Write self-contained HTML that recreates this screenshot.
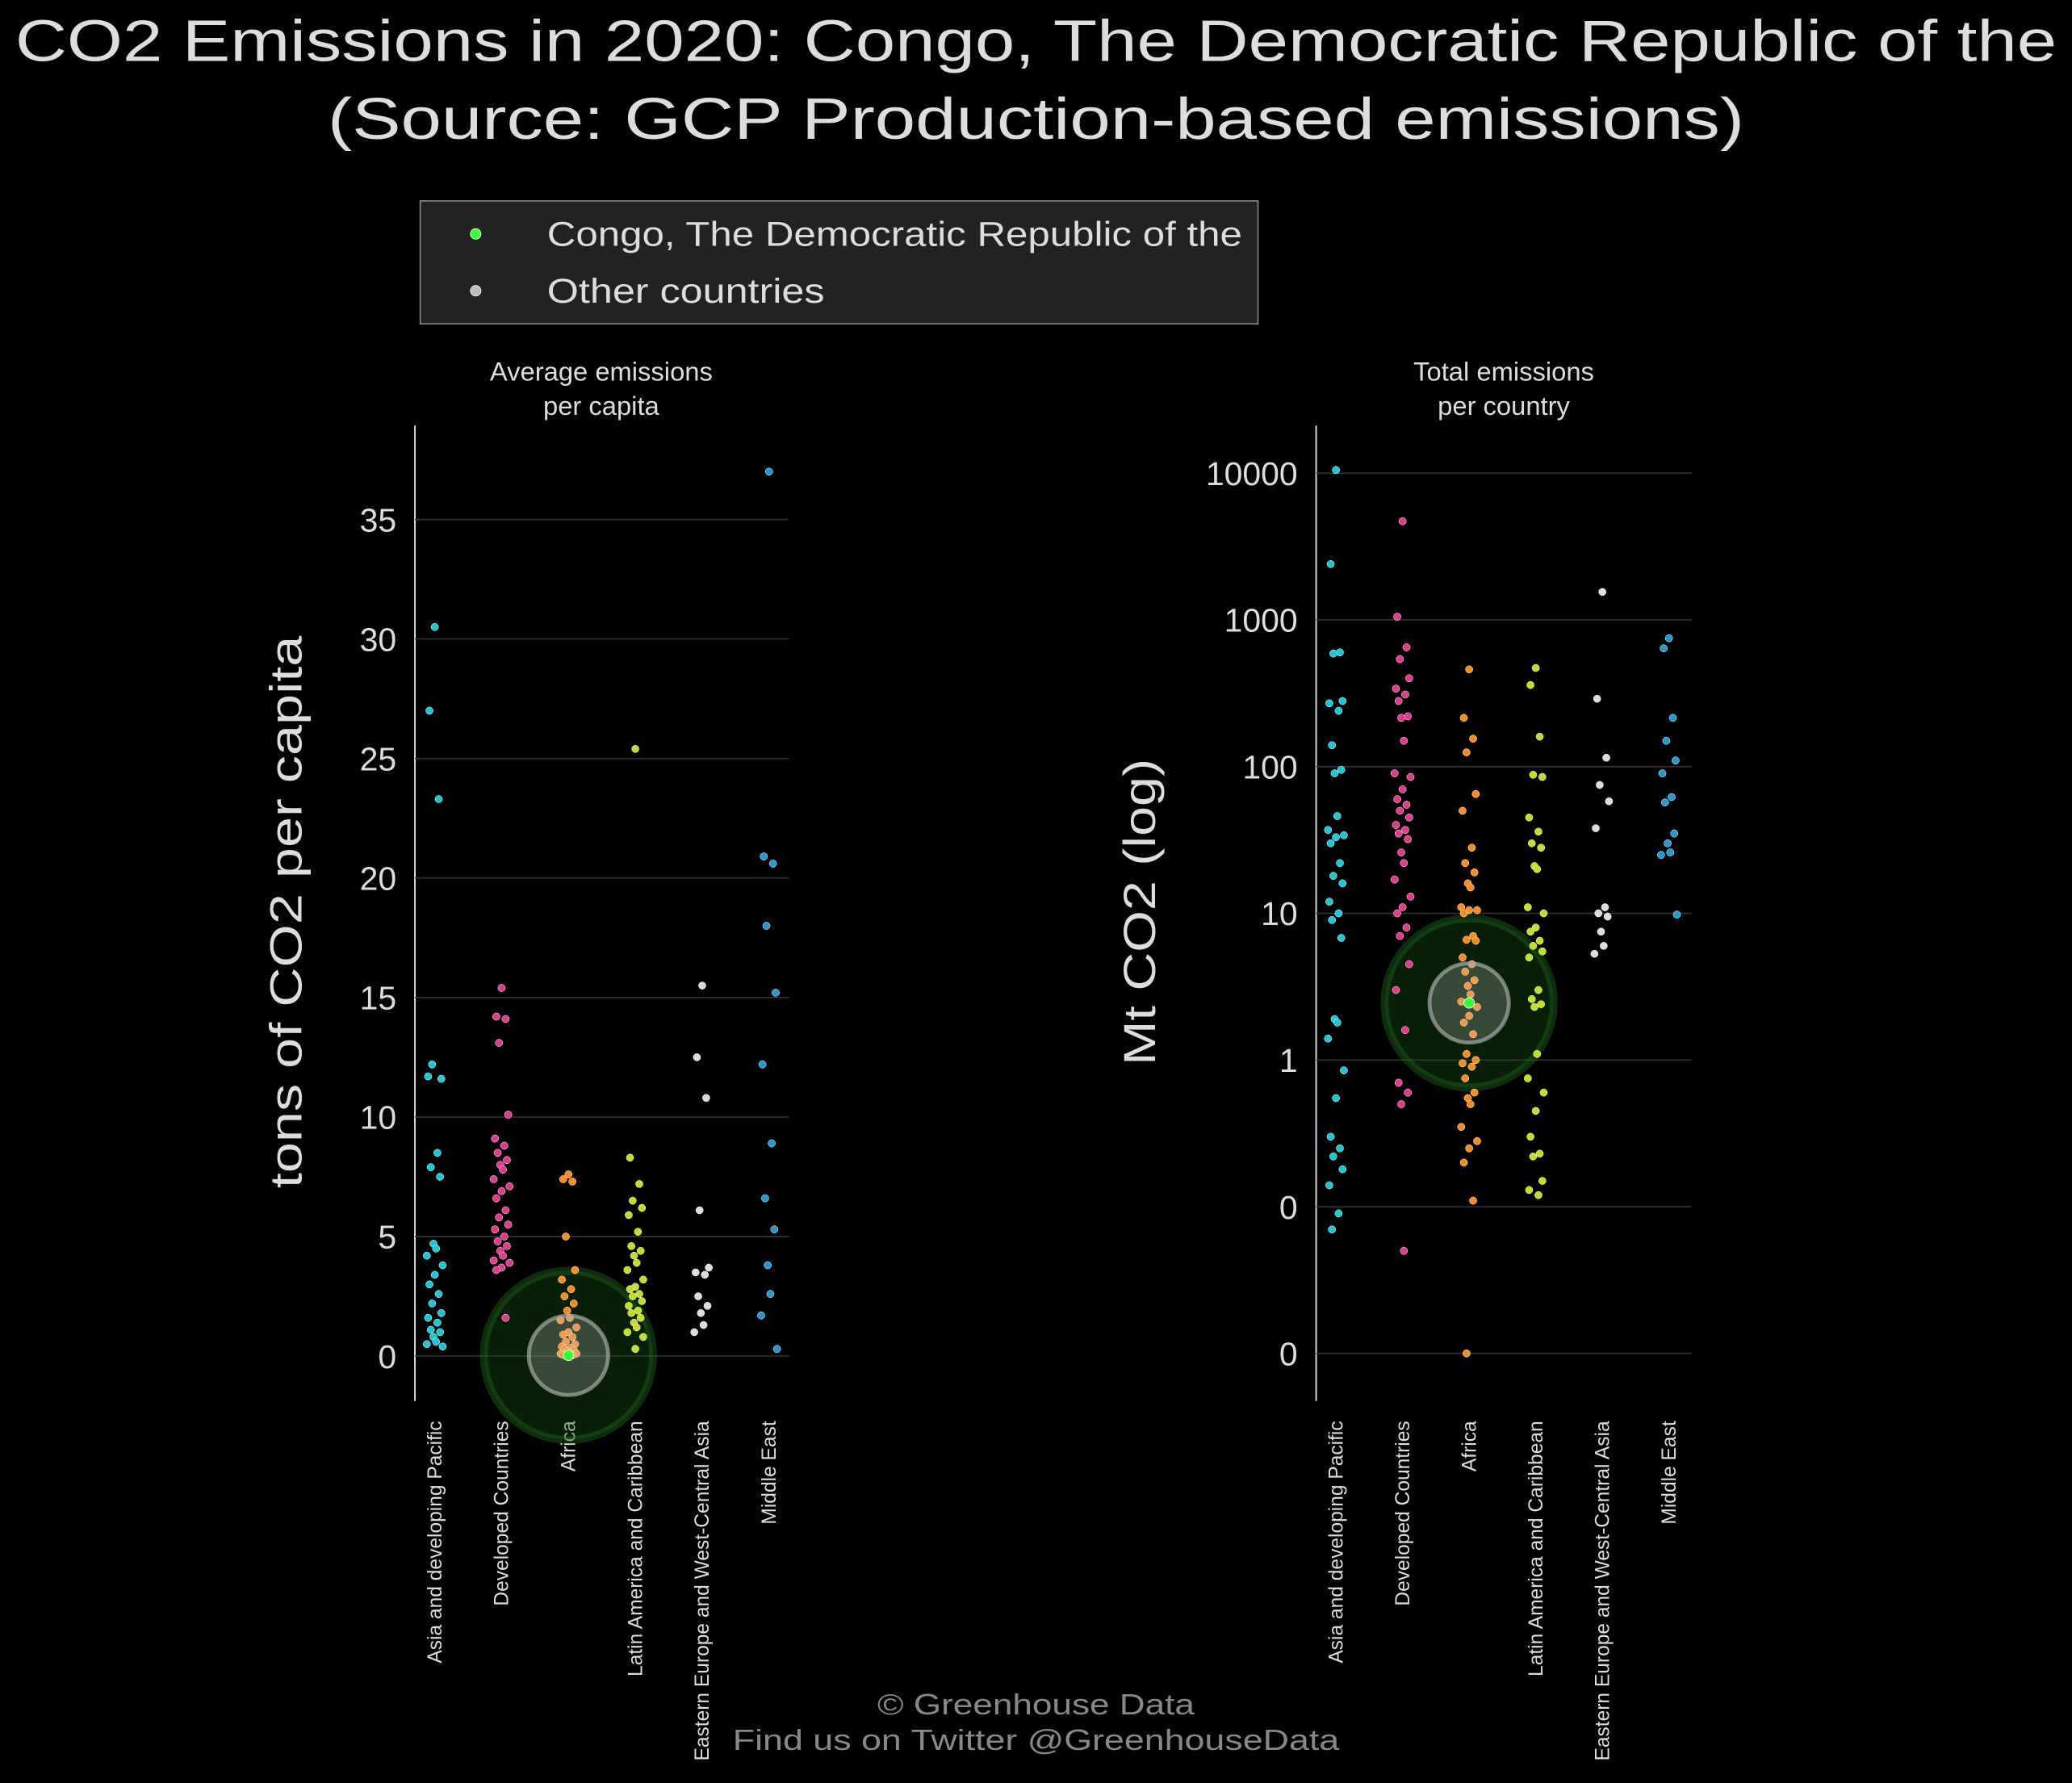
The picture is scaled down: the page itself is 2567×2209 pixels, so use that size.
<!DOCTYPE html>
<html><head><meta charset="utf-8"><style>
html,body{margin:0;padding:0;background:#000;}
svg{display:block;font-family:"Liberation Sans",sans-serif;}
</style></head><body>
<svg id="chart" width="2567" height="2209" viewBox="0 0 1568 1349" preserveAspectRatio="none" xmlns="http://www.w3.org/2000/svg">
<rect width="1568" height="1349" fill="#000"/>
<text x="784" y="46" text-anchor="middle" fill="#dddddd" font-size="44" textLength="1545" lengthAdjust="spacingAndGlyphs">CO2 Emissions in 2020: Congo, The Democratic Republic of the</text>
<text x="784" y="105" text-anchor="middle" fill="#dddddd" font-size="44" textLength="1072" lengthAdjust="spacingAndGlyphs">(Source: GCP Production-based emissions)</text>
<g>
<rect x="318" y="152" width="634" height="93" fill="#222" stroke="#888" stroke-width="1"/>
<circle cx="360" cy="177" r="4" fill="#33ff33" stroke="#fff" stroke-width="0.5"/>
<text x="414" y="186" fill="#dddddd" font-size="26" textLength="526" lengthAdjust="spacingAndGlyphs">Congo, The Democratic Republic of the</text>
<circle cx="360" cy="220" r="4" fill="#bbb" stroke="#fff" stroke-width="0.5"/>
<text x="414" y="229" fill="#dddddd" font-size="26" textLength="210" lengthAdjust="spacingAndGlyphs">Other countries</text>
</g>
<g id="left"></g>
<g id="right"></g>
<text x="784" y="1297" text-anchor="middle" fill="#888" font-size="22" textLength="240" lengthAdjust="spacingAndGlyphs">© Greenhouse Data</text>
<text x="784" y="1324" text-anchor="middle" fill="#888" font-size="22" textLength="459" lengthAdjust="spacingAndGlyphs">Find us on Twitter @GreenhouseData</text>
</svg>
<script>
const categories = ["Asia and developing Pacific","Developed Countries","Africa","Latin America and Caribbean","Eastern Europe and West-Central Asia","Middle East"];
const colors = ["#16c8d8","#e8378e","#ff8a1c","#c2e022","#dddddd","#1f9ad6"];
const perCapAsia = [30.5,27,23.3,12.2,11.6,11.7,8.5,7.9,7.5,4.7,4.5,4.2,3.8,3.4,3.0,2.6,2.2,1.8,1.6,1.4,1.1,1.0,0.8,0.6,0.5,0.4];
const perCapDeveloped = [15.4,14.2,14.1,13.1,10.1,9.1,8.8,8.5,8.2,8.0,7.8,7.4,7.1,6.9,6.6,6.1,5.8,5.5,5.3,5.0,4.8,4.6,4.4,4.2,4.0,3.9,3.7,3.6,1.6];
const perCapAfrica = [7.6,7.4,7.3,5.0,3.6,3.2,2.8,2.5,2.2,1.9,1.6,1.5,1.2,1.0,0.9,0.8,0.6,0.5,0.4,0.35,0.3,0.25,0.2,0.15,0.1,0.1,0.05,0.05,0.03];
const perCapLatam = [25.4,8.3,7.2,6.5,6.2,5.9,5.2,4.6,4.4,4.2,3.9,3.6,3.2,2.9,2.8,2.6,2.5,2.3,2.1,1.9,1.8,1.6,1.4,1.2,1.0,0.8,0.3];
const perCapEastEurope = [15.5,12.5,10.8,6.1,3.7,3.5,3.4,2.5,2.1,1.8,1.3,1.0];
const perCapMiddleEast = [37.0,20.9,20.6,18.0,15.2,12.2,8.9,6.6,5.3,3.8,2.6,1.7,0.3];
const totalAsia = [10500,2400,600,590,280,270,240,140,95,90,46,37,34,33,30,22,18,16,12,10,9,6.8,1.9,1.8,1.4,0.85,0.55,0.3,0.25,0.22,0.18,0.14,0.09,0.07];
const totalDeveloped = [4700,1050,650,540,400,340,310,280,220,215,150,90,85,70,60,55,50,45,40,37,35,32,26,22,17,13,11,10,8,7,4.5,3,1.6,0.7,0.6,0.5,0.05];
const totalAfrica = [460,215,155,125,65,50,28,22,19,16,15,11,10.5,10.5,10,7,6.6,6.5,5,4.5,4,3.5,3.2,2.8,2.5,2.3,2,1.8,1.5,1.1,1.0,0.95,0.9,0.75,0.6,0.55,0.5,0.35,0.28,0.25,0.2,0.11,0.01];
const totalLatam = [470,360,160,88,85,45,36,30,28,21,20,11,10,8,7.5,6.5,6,5.5,5,3,2.6,2.4,2.3,1.1,0.75,0.6,0.45,0.3,0.23,0.22,0.15,0.13,0.12];
const totalEastEurope = [1550,290,115,75,58,38,11,10,9.5,7.5,6,5.3];
const totalMiddleEast = [750,640,215,150,110,90,62,57,35,30,26,25,9.8];
const congoPerCap = 0.03;
const congoTotal = 2.45;
const congoCategory = 2;
const leftTicks = [0,5,10,15,20,25,30,35];
const rightTicks = [10000,1000,100,10,1,0.1,0.01];
const rightTickLabels = ["10000","1000","100","10","1","0","0"];

const NS="http://www.w3.org/2000/svg";
function mk(tag,attrs,parent){const e=document.createElementNS(NS,tag);for(const k in attrs)e.setAttribute(k,attrs[k]);parent.appendChild(e);return e;}
const jit=[0,-4,3,-2,5,-5,2,-3,4,-1,1,-6,6];

function panel(g,opts){
  const {x0,x1,yTop,yBot,catX,yScale,ticks,tickLabels,series,congoVal,title1,title2,titleX,ylabel,ylabelX,ylabelLen}=opts;
  const ax=mk('line',{x1:x0,x2:x0,y1:yTop,y2:yBot,stroke:'#ddd','stroke-width':1.2},g);
  
  
  ticks.forEach((t,i)=>{
    const y=yScale(t);
    const gl=mk('line',{x1:x0,x2:x1,y1:y,y2:y,stroke:'#333','stroke-width':1},g);
    
    
    const tx=mk('text',{x:x0-14,y:y+9,'text-anchor':'end',fill:'#ddd','font-size':25},g);
    tx.textContent=tickLabels[i];
    
    
  });
  const t1=mk('text',{x:titleX,y:288,'text-anchor':'middle',fill:'#ddd','font-size':20},g);t1.textContent=title1;
  
  
  const t2=mk('text',{x:titleX,y:314,'text-anchor':'middle',fill:'#ddd','font-size':20},g);t2.textContent=title2;
  
  
  const yl=mk('text',{x:ylabelX,y:690,'text-anchor':'middle',fill:'#ddd','font-size':34,textLength:ylabelLen,lengthAdjust:'spacingAndGlyphs',transform:`rotate(-90 ${ylabelX} 690)`},g);yl.textContent=ylabel;
  
  
  categories.forEach((c,i)=>{
    const x=catX(i);
    const lt=mk('text',{x:x+5,y:1075,'text-anchor':'end',fill:'#ddd','font-size':15,transform:`rotate(-90 ${x+5} 1075)`},g);lt.textContent=c;
    
    
  });
  const cx=catX(congoCategory), cy=yScale(congoVal);
  const glow=mk('circle',{cx:cx,cy:cy,r:64,fill:'rgba(20,90,20,0.35)',stroke:'rgba(30,110,30,0.4)','stroke-width':6},g);
  
  
  series.forEach((vals,si)=>{
    vals.forEach((v,i)=>{
      const d=mk('circle',{cx:catX(si)+jit[i%jit.length],cy:yScale(v),r:2.8,fill:colors[si],stroke:'#fff','stroke-width':0.3},g);
      
      
    });
  });
  const ring=mk('circle',{cx:cx,cy:cy,r:30,fill:'rgba(200,200,200,0.25)',stroke:'rgba(170,170,170,0.7)','stroke-width':3},g);
  
  
  const cd=mk('circle',{cx:cx,cy:cy,r:4,fill:'#33ff33',stroke:'#fff','stroke-width':0.5},g);
  
  
}

panel(document.getElementById('left'),{
  x0:314,x1:597,yTop:322,yBot:1060,
  catX:i=>329+i*50.6,
  yScale:v=>1026-v*18.086,
  ticks:leftTicks,tickLabels:leftTicks.map(String),
  series:[perCapAsia,perCapDeveloped,perCapAfrica,perCapLatam,perCapEastEurope,perCapMiddleEast],
  congoVal:congoPerCap,title1:"Average emissions",title2:"per capita",titleX:455,
  ylabel:"tons of CO2 per capita",ylabelX:228,ylabelLen:418
});
panel(document.getElementById('right'),{
  x0:996,x1:1280,yTop:322,yBot:1060,
  catX:i=>1011+i*50.4,
  yScale:v=>802-Math.log10(v)*111,
  ticks:rightTicks,tickLabels:rightTickLabels,
  series:[totalAsia,totalDeveloped,totalAfrica,totalLatam,totalEastEurope,totalMiddleEast],
  congoVal:congoTotal,title1:"Total emissions",title2:"per country",titleX:1138,
  ylabel:"Mt CO2 (log)",ylabelX:874,ylabelLen:232
});
</script>
</body></html>
